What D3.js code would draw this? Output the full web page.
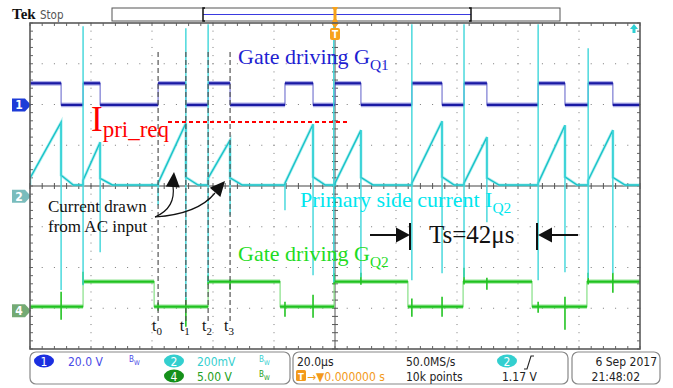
<!DOCTYPE html>
<html>
<head>
<meta charset="utf-8">
<script src="https://cdn.jsdelivr.net/npm/d3@7"></script>
<style>
  body { margin: 0; background: #fff; }
  svg { display: block; }
</style>
</head>
<body>
<svg id="scope" width="673" height="388"></svg>
<script>
// scope settings
const timePerDiv = 20;          // µs / div
const ch1Scale = 20;            // V / div
const ch2Scale = 200;           // mV / div
const ch4Scale = 5;             // V / div
const ch1Offset = 1.99;         // divisions above centre
const ch2Offset = -0.25;
const ch4Offset = -3.06;

// CH1 gate driving G_Q1, high intervals in µs
const ch1High = [[-100, -89.8], [-82.6, -77.0], [-58.0, -48.9], [-41.6, -34.4], [-16.4, -7.2],
                 [0, 8.5], [25.2, 35.1], [42.3, 49.8], [66.6, 75.4], [83.0, 91.1]];
const ch1Levels = [0, 10.6];    // V low / high

// CH2 primary side current I_Q2 (mV), one ramp per CH1 pulse
const ch2Base = 55;
const ch2Start = [88, 78, 64, 88, 64, 64, 64, 64, 64, 78];
const ch2Peak = [363, 265, 358, 275, 353, 324, 368, 290, 348, 324];
const ch2Tail = [103, 88, 93, 90, 95, 92, 95, 90, 95, 92];
// switching spikes: time, top, bottom (mV)
const ch2Spikes = [[-89.8, 363, -461], [-82.6, 834, -437], [-77.0, 265, -275], [-58.0, 54, -44],
                   [-48.9, 824, -510], [-41.6, 844, -422], [-34.4, 275, -93], [-16.4, 54, -69],
                   [-7.2, 353, -388], [-0.4, 844, -422], [8.5, 324, -398], [25.2, 844, -412],
                   [35.1, 368, -378], [42.3, 844, -398], [49.8, 290, -128], [66.6, 844, -412],
                   [75.4, 348, -373], [83.0, 726, -402], [91.1, 324, -378]];

// CH4 gate driving G_Q2, high intervals in µs
const ch4High = [[-82.6, -59.3], [-41.6, -18.0], [-0.3, 23.9], [42.0, 64.6], [82.6, 100]];
const ch4Levels = [0.49, 3.56];
// ringing at switching instants: time, top, bottom (V)
const ch4Ring = [[-89.8, 2.33, -1.10], [-82.6, 4.79, 3.2], [-58.0, 1.0, 0.0], [-48.9, 1.60, -1.96],
                 [-41.6, 4.42, 3.2], [-34.4, 3.80, 2.58], [-16.4, 1.1, -0.74], [-7.2, 1.96, -0.86],
                 [-0.3, 4.6, 3.2], [8.5, 4.66, 3.19], [25.2, 1.5, -0.74], [35.1, 1.72, -0.74],
                 [42.3, 5.28, 3.2], [49.8, 4.05, 2.58], [66.6, 1.1, -0.25], [75.4, 1.72, -2.33],
                 [83.0, 4.66, 3.2], [91.1, 4.66, 2.21]];

// time marks t0..t3 (µs)
const tMarks = [-58.0, -48.9, -41.6, -34.4];
const tNames = ['0', '1', '2', '3'];

const svg = d3.select('#scope');
const L = 30, R = 640, T = 23, B = 349;
const x = d3.scaleLinear().domain([-5 * timePerDiv, 5 * timePerDiv]).range([L, R]);
const yDiv = d3.scaleLinear().domain([-4, 4]).range([B, T]);
const y1 = v => yDiv(ch1Offset + v / ch1Scale);
const y2 = v => yDiv(ch2Offset + v / ch2Scale);
const y4 = v => yDiv(ch4Offset + v / ch4Scale);
const serif = '"Liberation Serif", "Times New Roman", serif';
const ui = '"Liberation Sans Narrow", "DejaVu Sans Condensed", "Liberation Sans", sans-serif';

svg.append('clipPath').attr('id', 'plot').append('rect')
  .attr('x', L).attr('y', T).attr('width', R - L).attr('height', B - T);

// graticule
const grid = svg.append('g');
const dx = (R - L) / 50, dy = (B - T) / 40;
d3.range(1, 10).filter(i => i !== 5).forEach(i => {
  d3.range(0, 41).forEach(k => grid.append('rect').attr('x', L + i * dx * 5 - 0.5)
    .attr('y', T + k * dy - 0.5).attr('width', 1).attr('height', 1).attr('fill', '#7a7a7a'));
});
d3.range(1, 8).filter(j => j !== 4).forEach(j => {
  d3.range(0, 51).forEach(k => grid.append('rect').attr('x', L + k * dx - 0.5)
    .attr('y', T + j * dy * 5 - 0.5).attr('width', 1).attr('height', 1).attr('fill', '#7a7a7a'));
});
const cx = x(0), cy = yDiv(0);
grid.append('line').attr('x1', cx).attr('x2', cx).attr('y1', T).attr('y2', B)
  .attr('stroke', '#555').attr('stroke-width', 1);
grid.append('line').attr('x1', L).attr('x2', R).attr('y1', cy).attr('y2', cy)
  .attr('stroke', '#444').attr('stroke-width', 1.2);
d3.range(0, 51).forEach(k => {
  const px = L + k * dx;
  grid.append('line').attr('x1', px).attr('x2', px).attr('y1', cy - 3).attr('y2', cy + 3).attr('stroke', '#555');
  grid.append('line').attr('x1', px).attr('x2', px).attr('y1', T).attr('y2', T + 3).attr('stroke', '#666');
  grid.append('line').attr('x1', px).attr('x2', px).attr('y1', B - 3).attr('y2', B).attr('stroke', '#666');
});
d3.range(0, 41).forEach(k => {
  const py = T + k * dy;
  grid.append('line').attr('x1', cx - 3).attr('x2', cx + 3).attr('y1', py).attr('y2', py).attr('stroke', '#555');
  grid.append('line').attr('x1', L).attr('x2', L + 3).attr('y1', py).attr('y2', py).attr('stroke', '#666');
  grid.append('line').attr('x1', R - 3).attr('x2', R).attr('y1', py).attr('y2', py).attr('stroke', '#666');
});

// traces
const traces = svg.append('g').attr('clip-path', 'url(#plot)');
const line = d3.line().x(d => x(d[0])).y(d => d[1]);

function stepPoints(high, yLow, yHigh) {
  const pts = [];
  if (high[0][0] > -100) pts.push([-100, yLow]);
  high.forEach(([a, b]) => {
    if (a > -100) pts.push([a, yLow]);
    pts.push([a, yHigh], [b, yHigh]);
    if (b < 100) pts.push([b, yLow]);
  });
  if (high[high.length - 1][1] < 100) pts.push([100, yLow]);
  return pts;
}

function drawGate(high, levels, yf, edge, flat, band, width) {
  const pts = stepPoints(high, yf(levels[0]), yf(levels[1]));
  traces.append('path').attr('d', line(pts)).attr('fill', 'none')
    .attr('stroke', edge).attr('stroke-width', 1.2);
  for (let i = 0; i < pts.length - 1; i++) {
    if (pts[i][1] !== pts[i + 1][1]) continue;
    const seg = [pts[i], pts[i + 1]];
    traces.append('path').attr('d', line(seg)).attr('stroke', band)
      .attr('stroke-width', width + 2.5).attr('opacity', 0.45);
    traces.append('path').attr('d', line(seg)).attr('stroke', flat).attr('stroke-width', width);
  }
}

// CH4
drawGate(ch4High, ch4Levels, y4, '#86e086', '#1fc21f', '#5fd85f', 2.2);
ch4Ring.forEach(([t, hi, lo]) => traces.append('line')
  .attr('x1', x(t)).attr('x2', x(t)).attr('y1', y4(hi)).attr('y2', y4(lo))
  .attr('stroke', '#22c422').attr('stroke-width', 1.6));

// CH1
drawGate(ch1High, ch1Levels, y1, '#7a7ad2', '#1a1aa4', '#4a4acc', 2.2);

// CH2
const ch2Pts = [[-100, y2(ch2Base)]];
ch1High.forEach(([a, b], i) => {
  ch2Pts.push([a, y2(ch2Base)], [a, y2(ch2Start[i])], [b, y2(ch2Peak[i])],
              [b, y2(ch2Tail[i])], [b + 4, y2(ch2Base)]);
});
ch2Pts.push([100, y2(ch2Base)]);
traces.append('path').attr('d', line(ch2Pts)).attr('fill', 'none')
  .attr('stroke', '#7fe4e6').attr('stroke-width', 3).attr('opacity', 0.6);
traces.append('path').attr('d', line(ch2Pts)).attr('fill', 'none')
  .attr('stroke', '#18c3c8').attr('stroke-width', 1.4);
ch2Spikes.forEach(([t, hi, lo]) => traces.append('line')
  .attr('x1', x(t)).attr('x2', x(t)).attr('y1', y2(hi)).attr('y2', y2(lo))
  .attr('stroke', '#3ed6da').attr('stroke-width', 1.4));

// t0..t3 dashed marks
tMarks.forEach((t, i) => {
  svg.append('line').attr('x1', x(t)).attr('x2', x(t)).attr('y1', 52).attr('y2', 322)
    .attr('stroke', '#555').attr('stroke-width', 1.2).attr('stroke-dasharray', '5,3');
  const lab = svg.append('text').attr('x', x(t) - 6).attr('y', 331)
    .attr('font-family', serif).attr('font-size', 16).attr('fill', '#111');
  lab.append('tspan').text('t');
  lab.append('tspan').attr('dy', 4).attr('font-size', 11).text(tNames[i]);
});

// channel markers
function marker(yc, fill, label) {
  svg.append('path').attr('d', `M12,${yc - 6.5}H25L31,${yc}L25,${yc + 6.5}H12Z`).attr('fill', fill);
  svg.append('text').attr('x', 19).attr('y', yc + 4.5).attr('text-anchor', 'middle')
    .attr('font-family', ui).attr('font-size', 12).attr('font-weight', 'bold')
    .attr('fill', '#fff').text(label);
}
marker(y1(0), '#1e3cd8', '1');
marker(y2(0), '#79bcbc', '2');
marker(y4(0), '#74aa74', '4');

// annotations
function subText(xp, yp, main, sub, size, color) {
  const t = svg.append('text').attr('x', xp).attr('y', yp).attr('font-family', serif)
    .attr('font-size', size).attr('fill', color);
  t.append('tspan').text(main);
  t.append('tspan').attr('dy', size * 0.25).attr('font-size', size * 0.7).text(sub);
}
subText(238, 64, 'Gate driving G', 'Q1', 22, '#1f1fd2');
subText(300, 207, 'Primary side current I', 'Q2', 22, '#00e6ee');
subText(238, 261, 'Gate driving G', 'Q2', 22, '#1fdc1f');

const ip = svg.append('text').attr('x', 91).attr('y', 131).attr('font-family', serif).attr('fill', '#f00');
ip.append('tspan').attr('font-size', 35).text('I');
ip.append('tspan').attr('dy', 6).attr('font-size', 23).text('pri_req');
svg.append('line').attr('x1', 168).attr('x2', 348).attr('y1', 122).attr('y2', 122)
  .attr('stroke', '#f00').attr('stroke-width', 2).attr('stroke-dasharray', '4,3');

svg.append('text').attr('x', 429).attr('y', 243).attr('font-family', serif)
  .attr('font-size', 25).attr('fill', '#111').text('Ts=42\u03bcs');

function head(tipX, tipY, ang, len, half) {
  const c = Math.cos(ang), s = Math.sin(ang);
  const bx = tipX - len * c, by = tipY - len * s;
  return `M${tipX},${tipY}L${bx - half * s},${by + half * c}L${bx + half * s},${by - half * c}Z`;
}
const ts = svg.append('g').attr('fill', '#111').attr('stroke', '#111');
ts.append('line').attr('x1', 370).attr('x2', 398).attr('y1', 235).attr('y2', 235).attr('stroke-width', 2);
ts.append('path').attr('d', head(410, 235, 0, 14, 7.5)).attr('stroke', 'none');
ts.append('line').attr('x1', 410).attr('x2', 410).attr('y1', 223).attr('y2', 250).attr('stroke-width', 2);
ts.append('line').attr('x1', 550).attr('x2', 578).attr('y1', 235).attr('y2', 235).attr('stroke-width', 2);
ts.append('path').attr('d', head(538, 235, Math.PI, 14, 7.5)).attr('stroke', 'none');
ts.append('line').attr('x1', 537).attr('x2', 537).attr('y1', 223).attr('y2', 250).attr('stroke-width', 2);

const cd = svg.append('text').attr('font-family', serif).attr('font-size', 17).attr('fill', '#111');
cd.append('tspan').attr('x', 48).attr('y', 212).text('Current drawn');
cd.append('tspan').attr('x', 48).attr('y', 232).text('from AC input');
svg.append('path').attr('d', 'M155,217Q176,208 173,186').attr('fill', 'none')
  .attr('stroke', '#111').attr('stroke-width', 1.2);
svg.append('path').attr('d', head(174, 172, -Math.PI / 2 + 0.08, 15, 7)).attr('fill', '#111');
svg.append('path').attr('d', 'M155,217Q198,214 215,193').attr('fill', 'none')
  .attr('stroke', '#111').attr('stroke-width', 1.2);
svg.append('path').attr('d', head(225, 181, -0.85, 15, 7)).attr('fill', '#111');

// top bar
svg.append('text').attr('x', 12).attr('y', 19).attr('font-family', serif).attr('font-weight', 'bold')
  .attr('font-size', 15).attr('fill', '#111').text('Tek');
svg.append('text').attr('x', 40).attr('y', 19).attr('font-family', ui)
  .attr('font-size', 11.5).attr('fill', '#555').text('Stop');
svg.append('rect').attr('x', 112).attr('y', 8).attr('width', 448).attr('height', 13)
  .attr('fill', '#fff').attr('stroke', '#555').attr('stroke-width', 1);
svg.append('line').attr('x1', 203).attr('x2', 471).attr('y1', 14.5).attr('y2', 14.5)
  .attr('stroke', '#3a3ae0').attr('stroke-width', 1.2);
[[203, 1], [471, -1]].forEach(([bx, d]) => svg.append('path')
  .attr('d', `M${bx + 2 * d},8H${bx}V21H${bx + 2 * d}`).attr('fill', 'none')
  .attr('stroke', '#111').attr('stroke-width', 1.5));
svg.append('path').attr('d', `M${cx - 3},7H${cx + 3}L${cx + 1.5},10V19L${cx + 3},22H${cx - 3}L${cx - 1.5},19V10Z`)
  .attr('fill', '#f7a21b');
svg.append('path').attr('d', `M${cx - 4},23H${cx + 4}L${cx},28Z`).attr('fill', '#f7a21b');
svg.append('rect').attr('x', cx - 5).attr('y', 28).attr('width', 10).attr('height', 12).attr('rx', 2)
  .attr('fill', '#f7a21b');
svg.append('text').attr('x', cx).attr('y', 38).attr('text-anchor', 'middle').attr('font-family', ui)
  .attr('font-size', 10).attr('font-weight', 'bold').attr('fill', '#fff').text('T');
svg.append('path').attr('d', 'M634,24L638,29H635.5V33H632.5V29H630Z').attr('fill', '#2fd0d4');

svg.append('rect').attr('x', L).attr('y', T).attr('width', R - L).attr('height', B - T)
  .attr('fill', 'none').attr('stroke', '#5a5a5a').attr('stroke-width', 1.6);

// status bar
const sb = svg.append('g').attr('font-family', ui).attr('font-size', 12);
[[30, 290], [293, 568], [572, 660]].forEach(([a, b]) => sb.append('rect')
  .attr('x', a).attr('y', 352).attr('width', b - a).attr('height', 32).attr('rx', 6)
  .attr('fill', '#fff').attr('stroke', '#888').attr('stroke-width', 1.2));
function chip(xc, yc, fill, label) {
  sb.append('ellipse').attr('cx', xc).attr('cy', yc).attr('rx', 10).attr('ry', 6.5).attr('fill', fill);
  sb.append('text').attr('x', xc).attr('y', yc + 4.5).attr('text-anchor', 'middle')
    .attr('fill', '#fff').attr('font-size', 12).text(label);
}
function bw(xp, yp, color) {
  const t = sb.append('text').attr('x', xp).attr('y', yp).attr('fill', color).attr('font-size', 8);
  t.append('tspan').text('B');
  t.append('tspan').attr('dy', 3).attr('font-size', 6.5).text('W');
}
chip(44, 361, '#1b2fe0', '1');
sb.append('text').attr('x', 68).attr('y', 366).attr('fill', '#4a4ae6').text('20.0 V');
bw(129, 362, '#4a4ae6');
chip(174, 361, '#33cfcf', '2');
sb.append('text').attr('x', 197).attr('y', 366).attr('fill', '#36cfcf').text('200mV');
bw(259, 362, '#36cfcf');
chip(174, 376, '#15901a', '4');
sb.append('text').attr('x', 197).attr('y', 381).attr('fill', '#22a022').text('5.00 V');
bw(259, 377, '#22a022');

sb.append('text').attr('x', 297).attr('y', 366).attr('fill', '#222').text('20.0\u03bcs');
sb.append('text').attr('x', 406).attr('y', 366).attr('fill', '#222').text('50.0MS/s');
chip(507, 361, '#33cfcf', '2');
sb.append('path').attr('d', 'M524,369H527L531,356H534').attr('fill', 'none').attr('stroke', '#222').attr('stroke-width', 1.1);
sb.append('rect').attr('x', 296).attr('y', 370).attr('width', 10).attr('height', 11).attr('rx', 1.5).attr('fill', '#f39a1a');
sb.append('text').attr('x', 301).attr('y', 379.5).attr('text-anchor', 'middle').attr('fill', '#fff')
  .attr('font-size', 9.5).attr('font-weight', 'bold').text('T');
sb.append('text').attr('x', 307).attr('y', 381).attr('fill', '#f39a1a').text('\u2192\u25bc0.000000 s');
sb.append('text').attr('x', 406).attr('y', 381).attr('fill', '#222').text('10k points');
sb.append('text').attr('x', 502).attr('y', 381).attr('fill', '#222').text('1.17 V');

sb.append('text').attr('x', 657).attr('y', 366).attr('text-anchor', 'end').attr('fill', '#222').text('6 Sep  2017');
sb.append('text').attr('x', 640).attr('y', 381).attr('text-anchor', 'end').attr('fill', '#222').text('21:48:02');
</script>
</body>
</html>
